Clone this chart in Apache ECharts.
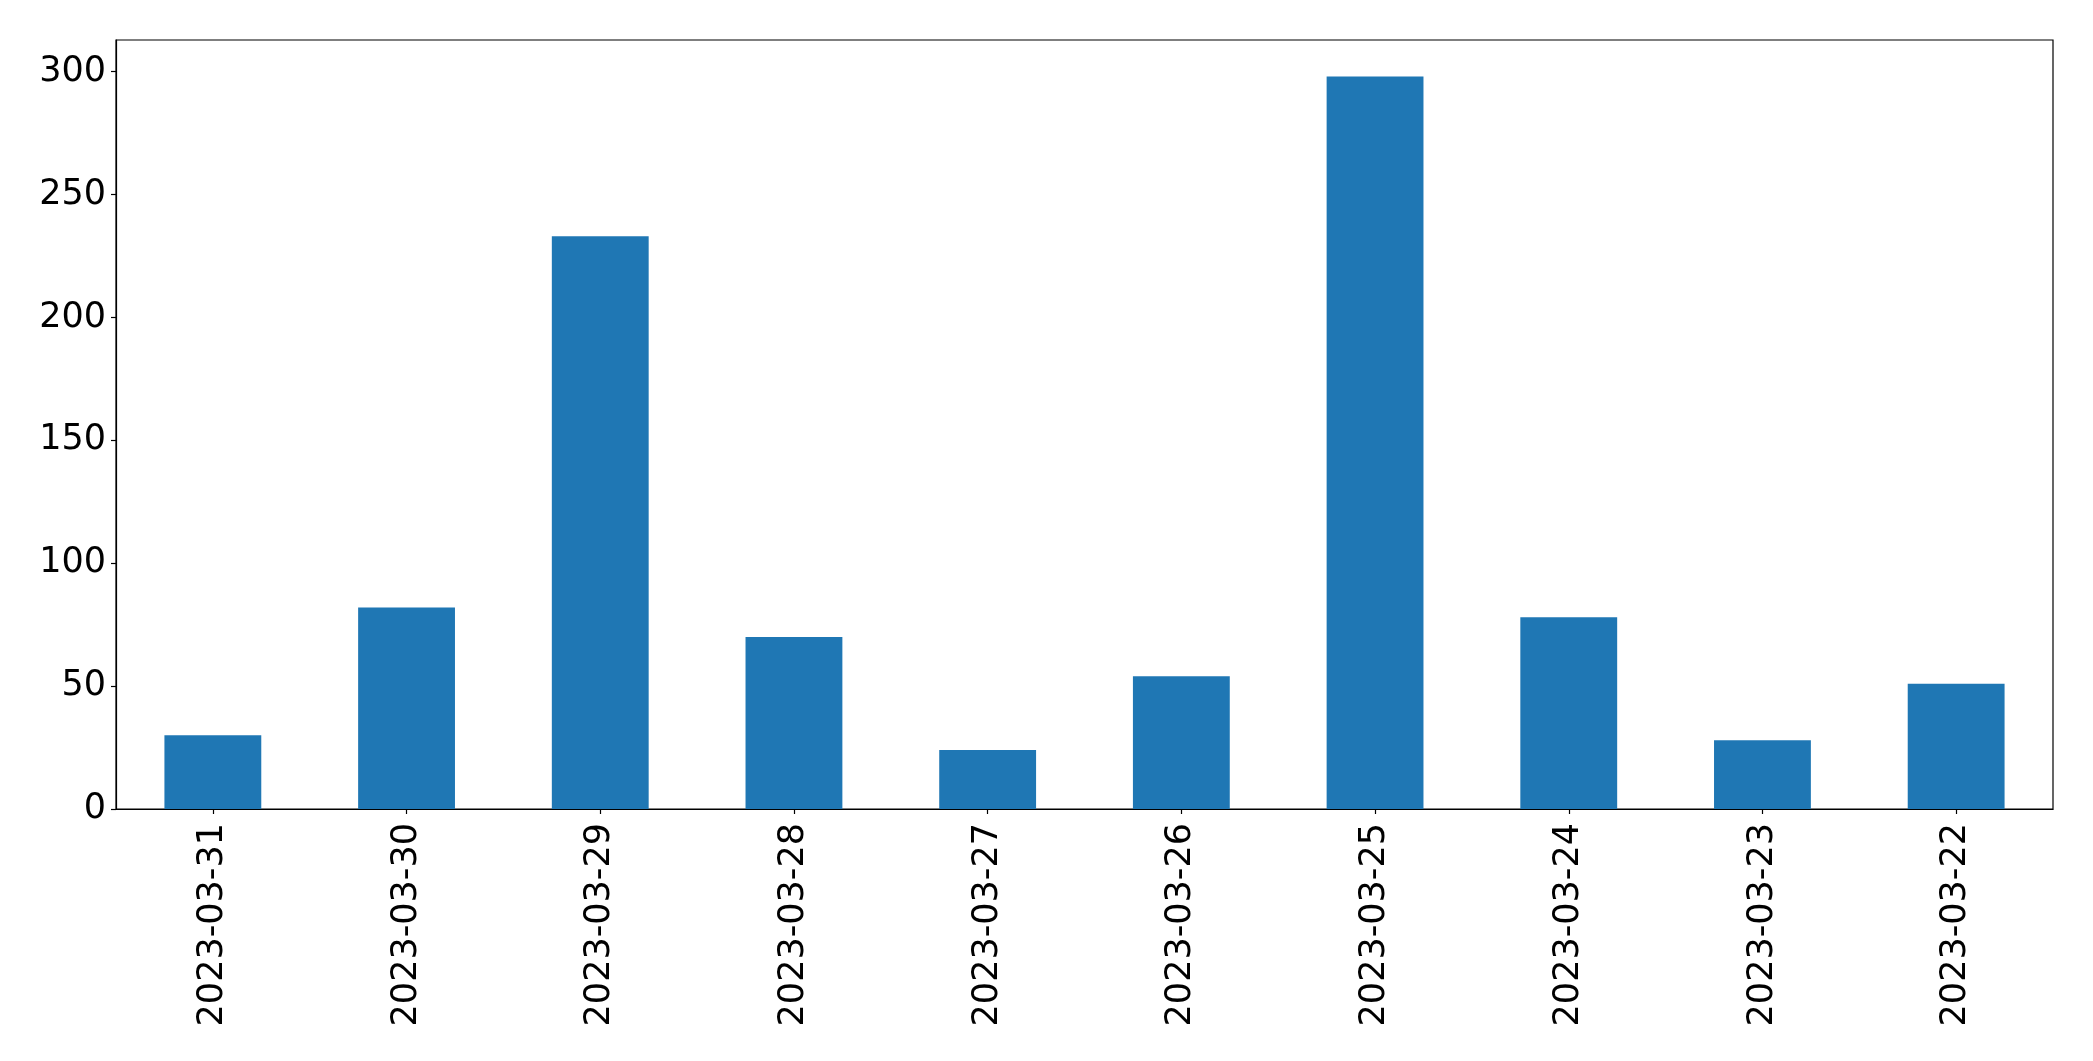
<!DOCTYPE html>
<html>
<head>
<meta charset="utf-8">
<script src="https://cdn.jsdelivr.net/npm/echarts@6/dist/echarts.min.js"></script>
<style>
html,body{margin:0;padding:0;background:#fff;}
#chart{width:2093px;height:1061px;}
</style>
</head>
<body>
<div id="chart"></div>
<script>
const categories = ['2023-03-31','2023-03-30','2023-03-29','2023-03-28','2023-03-27','2023-03-26','2023-03-25','2023-03-24','2023-03-23','2023-03-22'];
const values = [30, 82, 233, 70, 24, 54, 298, 78, 28, 51];
const yTicks = [0, 50, 100, 150, 200, 250, 300];

const yMax = Math.max(...values) * 1.05;
const font = 'DejaVu Sans';
const chart = echarts.init(document.getElementById('chart'), null, {renderer: 'canvas'});
chart.setOption({
  backgroundColor: '#ffffff',
  animation: false,
  grid: {left: 116, right: 40, top: 40, bottom: 252, show: true, borderColor: '#000', borderWidth: 1.2, backgroundColor: 'transparent'},
  xAxis: {
    type: 'category',
    data: categories,
    axisLine: {show: true, lineStyle: {color: '#000', width: 1.2}},
    axisTick: {show: true, alignWithLabel: true, length: 5, lineStyle: {color: '#000', width: 1.2}},
    axisLabel: {rotate: 90, margin: 14, color: '#000', fontFamily: font, fontSize: 35, interval: 0},
    splitLine: {show: false}
  },
  yAxis: {
    type: 'value',
    min: 0,
    max: yMax,
    interval: 50,
    axisLine: {show: true, lineStyle: {color: '#000', width: 1.2}},
    axisTick: {show: true, length: 5, lineStyle: {color: '#000', width: 1.2}, customValues: yTicks},
    axisLabel: {margin: 10, color: '#000', fontFamily: font, fontSize: 35, customValues: yTicks},
    splitLine: {show: false}
  },
  series: [{
    type: 'bar',
    data: values,
    barWidth: '50%',
    itemStyle: {color: '#1f77b4'}
  }]
});
</script>
</body>
</html>
